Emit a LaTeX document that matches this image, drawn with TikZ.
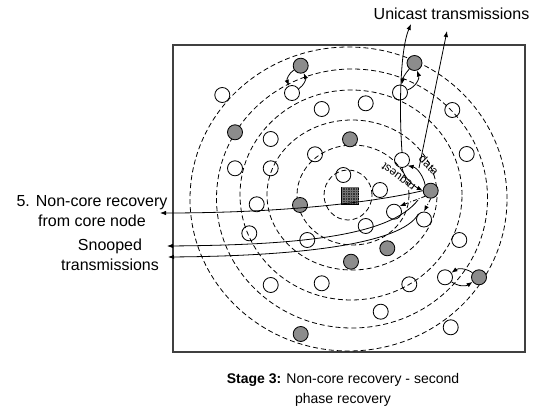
\documentclass[tikz,border=0pt]{standalone}
\usepackage{fontspec}
\setmainfont{Liberation Sans}
\usetikzlibrary{arrows.meta}
\begin{document}
\begin{tikzpicture}[x=1pt,y=-1pt,
  wn/.style={circle,draw,line width=0.85pt,minimum size=15pt,inner sep=0pt},
  gn/.style={wn,fill={rgb,255:red,140;green,140;blue,140}},
  ring/.style={dash pattern=on 5pt off 3pt,line width=0.8pt},
  arr/.style={line width=0.8pt,-{Latex[length=6pt,width=4.5pt]}},
  dd/.style={arr,dash pattern=on 4pt off 2pt on 1pt off 2pt},
  lbl/.style={font=\fontsize{16}{19.5}\selectfont,align=center,inner sep=0pt},
  small/.style={font=\fontsize{11.5}{12}\selectfont,inner sep=0pt}
]
\useasboundingbox (0,0) rectangle (534,411);
\draw[line width=1.2pt,black!75] (173,45) rectangle (525,352);
% rings
\draw[ring] (348.5,199) ellipse [x radius=158.5pt, y radius=152pt];
\draw[ring] (352,198.5) ellipse [x radius=135.5pt, y radius=129.5pt];
\draw[ring] (351,195) ellipse [x radius=111pt, y radius=105pt];
\draw[ring] (352,195) ellipse [x radius=85pt, y radius=75pt];
\draw[ring] (353,195) ellipse [x radius=56pt, y radius=50pt];
\draw[ring] (348,195) ellipse [x radius=24pt, y radius=25pt];
% core
\node[draw,fill=black!80,minimum size=17pt,inner sep=0pt] (core) at (350,196) {};
\draw[black!55,line width=0.3pt] (341.5,187.5) grid[step=2.5pt] (358.5,204.5);
% white nodes
\node[wn] (w1) at (222.3,95) {};
\node[wn] (w2) at (292,93) {};
\node[wn] (w3) at (321.7,109) {};
\node[wn] (w4) at (365.7,103.3) {};
\node[wn] (w5) at (400,92.5) {};
\node[wn] (w6) at (452.3,110) {};
\node[wn] (w7) at (270.7,139) {};
\node[wn] (w8) at (235,168.3) {};
\node[wn] (w9) at (270.7,168.3) {};
\node[wn] (w10) at (315,154.3) {};
\node[wn] (w11) at (402,160) {};
\node[wn] (w12) at (466.7,154) {};
\node[wn] (w13) at (343.3,175) {};
\node[wn] (w14) at (380,190) {};
\node[wn] (w15) at (256.7,204.3) {};
\node[wn] (w16) at (394,211.7) {};
\node[wn] (w17) at (424,219.5) {};
\node[wn] (w18) at (365.7,226) {};
\node[wn] (w19) at (249.3,233.3) {};
\node[wn] (w20) at (307.3,240) {};
\node[wn] (w21) at (459.3,240) {};
\node[wn] (w22) at (270.7,285) {};
\node[wn] (w23) at (321.7,283.3) {};
\node[wn] (w24) at (409.3,284.3) {};
\node[wn] (w25) at (445,277.3) {};
\node[wn] (w26) at (380.7,311.7) {};
\node[wn] (w27) at (450.7,327.3) {};
% gray nodes
\node[gn] (g1) at (300.7,65.7) {};
\node[gn] (g2) at (414.5,63) {};
\node[gn] (g3) at (235,132.3) {};
\node[gn] (g4) at (350,139.3) {};
\node[gn] (g5) at (430.7,190.7) {};
\node[gn] (g6) at (300,205) {};
\node[gn] (g7) at (387.3,248.3) {};
\node[gn] (g8) at (351,261.7) {};
\node[gn] (g9) at (479,277.3) {};
\node[gn] (g10) at (300.7,334) {};
% labels
\node[lbl] (uni) at (451.5,14) {Unicast transmissions};
\node[lbl] (ncr) at (92,211) {5. Non-core recovery\\from core node};
\node[lbl] (snp) at (110,255) {Snooped\\transmissions};
\node[lbl,font=\fontsize{14}{20}\selectfont] (cap) at (343,390) {\textbf{Stage 3:} Non-core recovery - second\\phase recovery};
\node[small,rotate=-45] (dlab) at (429,165) {data};
\node[small,rotate=144] (rlab) at (399,176) {request};
% arrow end points
\coordinate (ua) at (411,24);
\coordinate (ub) at (447,31);
\coordinate (na) at (160,213);
\coordinate (sa) at (167,246);
\coordinate (sb) at (168,257);
% small exchanges
\draw[arr] (g1) to[bend right=40] (w2);
\draw[arr] (w2) to[bend right=40] (g1);
\draw[arr] (g2) to[bend right=15] (w5);
\draw[arr] (w5) to[bend right=45] (g2);
\draw[arr] (g9) to[bend right=35] (w25);
\draw[arr] (w25) to[bend right=35] (g9);
% request / data
\draw[arr] (w11.south) .. controls (404,178) and (414,186) .. (g5.west);
\draw[arr] (g5.north west) .. controls (424,178) and (418,168) .. (w11.south east);
\draw[dd] (g5.south west) -- (w16.north east);
\draw[dd] (g5.south) -- (w17.north);
% unicast
\draw[arr] (w11.north) .. controls (399,110) and (400,50) .. (ua);
\draw[arr] (419,168) -- (ub);
% recovery and snooped
\draw[arr] (g5.west) .. controls (370,203) and (280,213) .. (na);
\draw[arr] (418,200) .. controls (390,236) and (300,245) .. (sa);
\draw[arr] (w17.north west) .. controls (402,244) and (300,256) .. (sb);
\end{tikzpicture}
\end{document}
